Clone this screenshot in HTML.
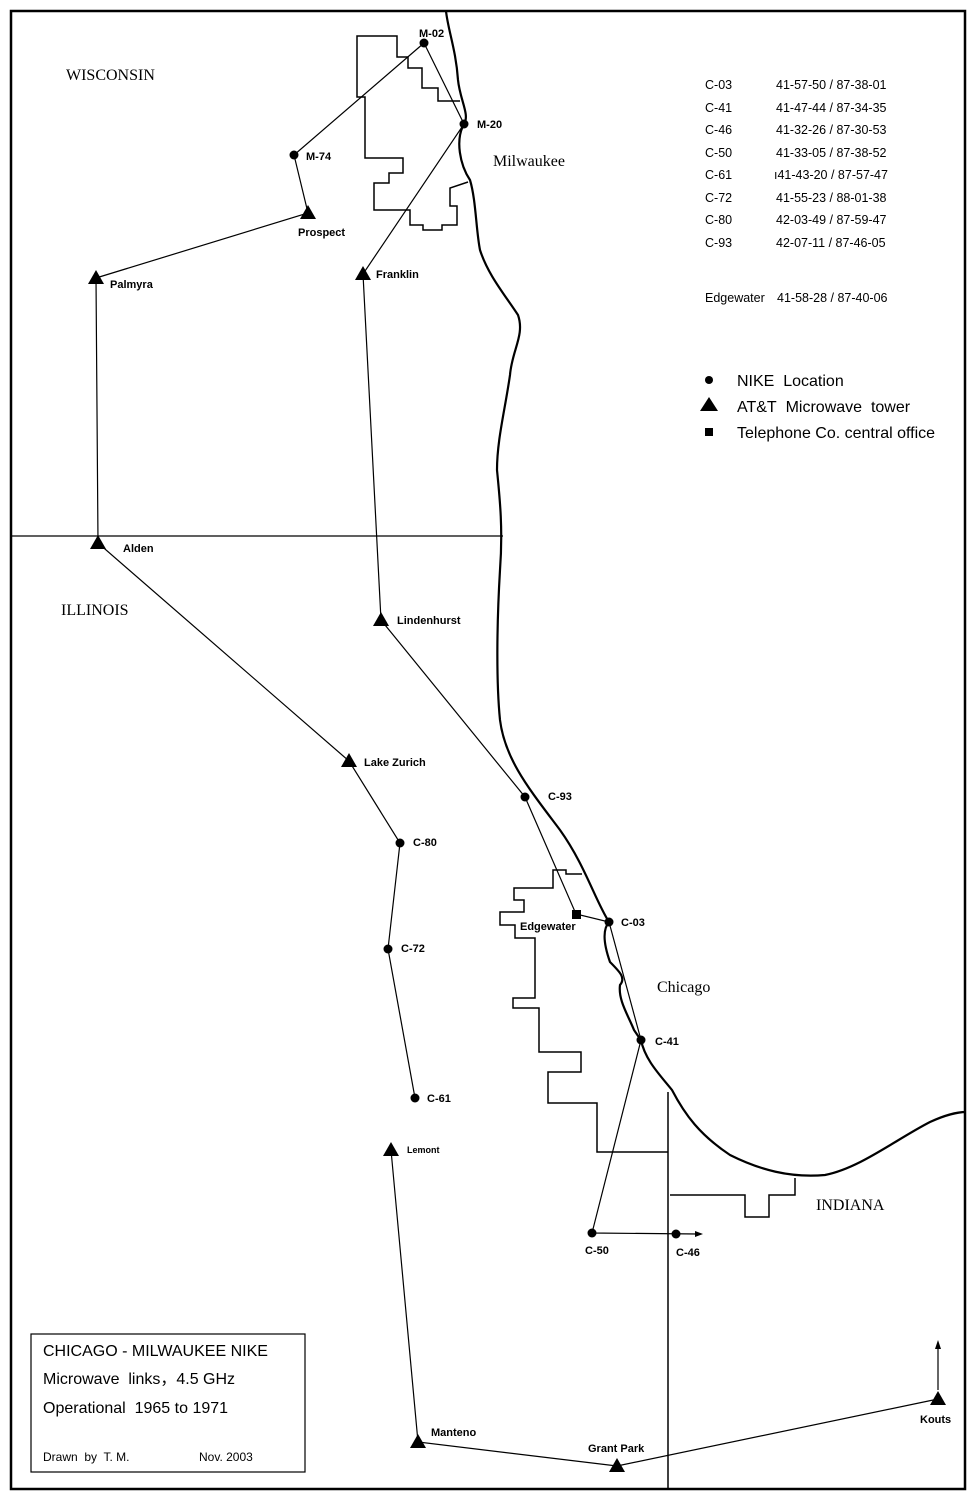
<!DOCTYPE html>
<html><head><meta charset="utf-8"><style>
html,body{margin:0;padding:0;background:#fff}
svg{display:block}
text{font-family:"Liberation Sans",sans-serif;fill:#000}
.lb{font-size:11px;font-weight:bold}
.st text{font-family:"Liberation Serif",serif;font-size:16px}
.t{font-size:12.5px}
</style></head><body>
<svg width="976" height="1500" viewBox="0 0 976 1500" xmlns="http://www.w3.org/2000/svg">
<rect x="11" y="11" width="954" height="1478" fill="none" stroke="#000" stroke-width="2.5"/>
<path d="M446,11 C448,30 456,50 458,80 C460,100 470,115 464,124 C455,140 460,165 470,180 C476,200 476,230 480,250 C488,275 505,295 518,315 C525,335 512,350 510,375 C505,410 497,440 497,470 C500,500 503,530 500,570 C497,620 496,680 500,720 C505,760 530,790 560,830 C585,865 595,900 609,922 C602,930 604,945 610,962 C620,972 626,978 620,985 C618,1000 628,1015 634,1030 C638,1036 641,1040 641,1040 C645,1060 660,1075 672,1090 C685,1115 700,1135 730,1155 C760,1170 790,1178 825,1175 C860,1168 895,1140 930,1122 C945,1115 958,1112 966,1112" fill="none" stroke="#000" stroke-width="2.2"/>
<polyline points="460,101 438,101 438,88 422,88 422,68 408,68 408,57 397,57 397,36 357,36 357,97 365,97 365,158 403,158 403,173 389,173 389,183 374,183 374,210 410,210 410,225 423,225 423,230 442,230 442,225 457,225 457,206 450,206 450,188 468,182" fill="none" stroke="#000" stroke-width="1.5"/>
<polyline points="582,874 566,874 566,870 553,870 553,888 514,888 514,900 524,900 524,912 500,912 500,925 515,925 515,938 535,938 535,998 513,998 513,1008 539,1008 539,1052 581,1052 581,1072 548,1072 548,1103 597,1103 597,1152 668,1152" fill="none" stroke="#000" stroke-width="1.5"/>
<line x1="668" y1="1092" x2="668" y2="1489" stroke="#000" stroke-width="1.5"/>
<polyline points="670,1195 745,1195 745,1217 769,1217 769,1195 795,1195 795,1178" fill="none" stroke="#000" stroke-width="1.5"/>
<line x1="11" y1="536" x2="503" y2="536" stroke="#000" stroke-width="1.2"/>
<g stroke="#000" stroke-width="1.2" fill="none">
<polyline points="424,43 294,155 308,213 96,278 98,543 349,761 400,843 388,949 415,1098"/>
<polyline points="391,1150 418,1442 617,1466 938,1399"/>
<polyline points="424,43 464,124 363,274 381,620 525,797 576,914 609,922 641,1040 592,1233 698,1234"/>
<line x1="938" y1="1390" x2="938" y2="1346"/>
</g>
<polygon points="703,1234 695,1231 695,1237"/>
<polygon points="938,1340 935,1349 941,1349"/>
<g>
<circle cx="424" cy="43" r="4.5"/><circle cx="464" cy="124" r="4.5"/><circle cx="294" cy="155" r="4.5"/>
<circle cx="525" cy="797" r="4.5"/><circle cx="400" cy="843" r="4.5"/><circle cx="388" cy="949" r="4.5"/>
<circle cx="415" cy="1098" r="4.5"/><circle cx="609" cy="922" r="4.5"/><circle cx="641" cy="1040" r="4.5"/>
<circle cx="592" cy="1233" r="4.5"/><circle cx="676" cy="1234" r="4.5"/>
<rect x="572" y="910" width="9" height="9"/>
</g>
<g>
<polygon points="308,205 300,219 316,219"/><polygon points="96,270 88,284 104,284"/><polygon points="363,266 355,280 371,280"/>
<polygon points="98,535 90,549 106,549"/><polygon points="381,612 373,626 389,626"/><polygon points="349,753 341,767 357,767"/>
<polygon points="391,1142 383,1156 399,1156"/><polygon points="418,1434 410,1448 426,1448"/><polygon points="617,1458 609,1472 625,1472"/>
<polygon points="938,1391 930,1405 946,1405"/>
</g>
<g class="lb">
<text x="419" y="37">M-02</text><text x="477" y="128">M-20</text><text x="306" y="160">M-74</text>
<text x="298" y="236">Prospect</text><text x="110" y="288">Palmyra</text><text x="376" y="278">Franklin</text>
<text x="123" y="552">Alden</text><text x="397" y="624">Lindenhurst</text><text x="364" y="766">Lake Zurich</text>
<text x="548" y="800">C-93</text><text x="413" y="846">C-80</text><text x="401" y="952">C-72</text>
<text x="427" y="1102">C-61</text><text x="407" y="1153" style="font-size:9px">Lemont</text>
<text x="520" y="930">Edgewater</text><text x="621" y="926">C-03</text><text x="655" y="1045">C-41</text>
<text x="585" y="1254">C-50</text><text x="676" y="1256">C-46</text>
<text x="431" y="1436">Manteno</text><text x="588" y="1452">Grant Park</text><text x="920" y="1423">Kouts</text>
</g>
<g class="st">
<text x="66" y="80">WISCONSIN</text><text x="493" y="166">Milwaukee</text><text x="61" y="615">ILLINOIS</text>
<text x="657" y="992">Chicago</text><text x="816" y="1210">INDIANA</text>
</g>
<g class="t">
<text x="705" y="89">C-03</text><text x="776" y="89">41-57-50 / 87-38-01</text>
<text x="705" y="112">C-41</text><text x="776" y="112">41-47-44 / 87-34-35</text>
<text x="705" y="134">C-46</text><text x="776" y="134">41-32-26 / 87-30-53</text>
<text x="705" y="157">C-50</text><text x="776" y="157">41-33-05 / 87-38-52</text>
<text x="705" y="179">C-61</text><text x="774" y="179">ı41-43-20 / 87-57-47</text>
<text x="705" y="202">C-72</text><text x="776" y="202">41-55-23 / 88-01-38</text>
<text x="705" y="224">C-80</text><text x="776" y="224">42-03-49 / 87-59-47</text>
<text x="705" y="247">C-93</text><text x="776" y="247">42-07-11 / 87-46-05</text>
<text x="705" y="302">Edgewater</text><text x="777" y="302">41-58-28 / 87-40-06</text>
</g>
<circle cx="709" cy="380" r="4"/>
<polygon points="709,397 700,411 718,411"/>
<rect x="705" y="428" width="8" height="8"/>
<g style="font-size:16px">
<text x="737" y="386">NIKE&#160; Location</text>
<text x="737" y="412">AT&amp;T&#160; Microwave&#160; tower</text>
<text x="737" y="438">Telephone Co. central office</text>
</g>
<rect x="31" y="1334" width="274" height="138" fill="none" stroke="#000" stroke-width="1.2"/>
<g style="font-size:16px">
<text x="43" y="1356">CHICAGO - MILWAUKEE NIKE</text>
<text x="43" y="1384">Microwave&#160; links，4.5 GHz</text>
<text x="43" y="1413">Operational&#160; 1965 to 1971</text>
</g>
<text x="43" y="1461" style="font-size:12px">Drawn&#160; by&#160; T. M.</text>
<text x="199" y="1461" style="font-size:12px">Nov. 2003</text>
</svg>
</body></html>
